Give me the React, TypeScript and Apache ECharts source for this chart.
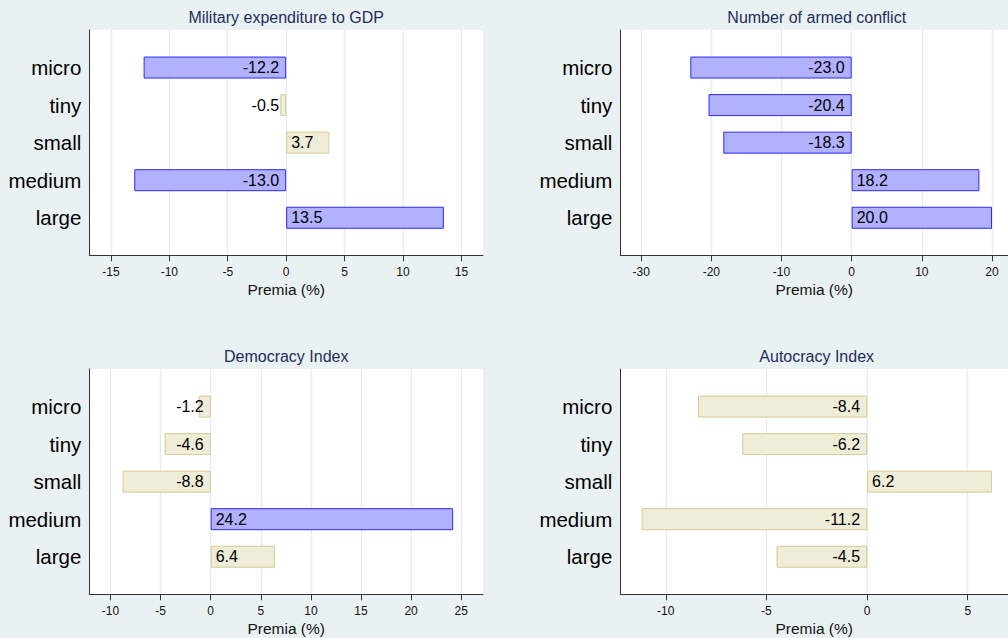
import { useEffect, useRef } from "react";
import * as echarts from "echarts";

// Firm-size classes, top to bottom
const sizeClasses = ["micro", "tiny", "small", "medium", "large"];

// Premia (%) by size class for each indicator, with significance flags
const militaryPremia = [-12.2, -0.5, 3.7, -13.0, 13.5];
const militarySignificant = [true, false, false, true, true];
const militaryTicks = [-15, -10, -5, 0, 5, 10, 15];

const conflictPremia = [-23.0, -20.4, -18.3, 18.2, 20.0];
const conflictSignificant = [true, true, true, true, true];
const conflictTicks = [-30, -20, -10, 0, 10, 20];

const democracyPremia = [-1.2, -4.6, -8.8, 24.2, 6.4];
const democracySignificant = [false, false, false, true, false];
const democracyTicks = [-10, -5, 0, 5, 10, 15, 20, 25];

const autocracyPremia = [-8.4, -6.2, 6.2, -11.2, -4.5];
const autocracySignificant = [false, false, false, false, false];
const autocracyTicks = [-10, -5, 0, 5];

const FONT = '"Liberation Sans", Arial, Helvetica, sans-serif';
const PLOT_H = 225.3;

const SIG_STYLE = { color: "#b1b1ff", borderColor: "#2b2bf5", borderWidth: 1 };
const NS_STYLE = { color: "#efecd8", borderColor: "#d8cc91", borderWidth: 1 };

// Right-hand panels run off the page edge, so their plot stops at the border
const panels = [
  { title: "Military expenditure to GDP", values: militaryPremia, sig: militarySignificant, ticks: militaryTicks, min: -16.85, max: 16.85, left: 89.3, width: 393.7, top: 30, titleX: 286.2 },
  { title: "Number of armed conflict", values: conflictPremia, sig: conflictSignificant, ticks: conflictTicks, min: -32.98, max: 22.28, left: 620.3, width: 387.7, top: 30, titleX: 816.7 },
  { title: "Democracy Index", values: democracyPremia, sig: democracySignificant, ticks: democracyTicks, min: -12.12, max: 27.18, left: 89.3, width: 393.7, top: 369, titleX: 286.2 },
  { title: "Autocracy Index", values: autocracyPremia, sig: autocracySignificant, ticks: autocracyTicks, min: -12.26, max: 7.0, left: 620.3, width: 387.7, top: 369, titleX: 816.7 },
];

// Blank slots at both ends give the outer spacing around the bars
const yCategories = [" ", ...sizeClasses, "  "];

function buildOption() {
  const axisColor = "#333333";
  return {
    animation: false,
    backgroundColor: "#eaf1f3",
    grid: panels.map((p) => ({
      left: p.left,
      top: p.top,
      width: p.width,
      height: PLOT_H,
      show: true,
      backgroundColor: "#ffffff",
      borderWidth: 0,
      containLabel: false,
    })),
    xAxis: panels.map((p, i) => ({
      gridIndex: i,
      type: "value",
      min: p.min,
      max: p.max,
      axisLine: { show: true, onZero: false, lineStyle: { color: axisColor, width: 1 } },
      axisTick: { show: true, customValues: p.ticks, length: 6, lineStyle: { color: axisColor, width: 1 } },
      axisLabel: { customValues: p.ticks, fontSize: 12, color: "#111111", margin: 11, fontFamily: FONT },
      splitLine: { show: true, lineStyle: { color: "#e3ecef", width: 1.3 } },
      name: "Premia (%)",
      nameLocation: "middle",
      nameGap: 26.5,
      nameTextStyle: { fontSize: 15.5, color: "#111111", fontFamily: FONT },
    })),
    yAxis: panels.map((_, i) => ({
      gridIndex: i,
      type: "category",
      inverse: true,
      boundaryGap: false,
      data: yCategories,
      axisLine: { show: true, onZero: false, lineStyle: { color: axisColor, width: 1 } },
      axisTick: { show: false },
      axisLabel: { fontSize: 20.5, color: "#000000", margin: 8, fontFamily: FONT, interval: 0 },
      splitLine: { show: false },
    })),
    series: panels.map((p, i) => ({
      type: "bar",
      xAxisIndex: i,
      yAxisIndex: i,
      barWidth: 22,
      data: [
        "-",
        ...p.values.map((v, k) => ({
          value: v,
          itemStyle: p.sig[k] ? SIG_STYLE : NS_STYLE,
          label: {
            show: true,
            position: v < 0 ? "insideRight" : "insideLeft",
            distance: v < 0 ? 7 : 5,
            formatter: () => v.toFixed(1),
            fontSize: 16,
            color: "#000000",
            fontFamily: FONT,
          },
        })),
        "-",
      ],
    })),
    graphic: panels.map((p) => ({
      type: "text",
      x: p.titleX,
      y: p.top - 13,
      style: {
        text: p.title,
        fill: "#1f2d5c",
        font: `16px ${FONT}`,
        textAlign: "center",
        textVerticalAlign: "middle",
      },
    })),
  };
}

export default function App() {
  const ref = useRef<HTMLDivElement>(null);
  useEffect(() => {
    if (!ref.current) return;
    const chart = echarts.init(ref.current, undefined, { renderer: "svg" });
    chart.setOption(buildOption() as any);
    return () => chart.dispose();
  }, []);
  return (
    <div
      ref={ref}
      style={{ position: "absolute", left: 0, top: 0, width: 1008, height: 638 }}
    />
  );
}
